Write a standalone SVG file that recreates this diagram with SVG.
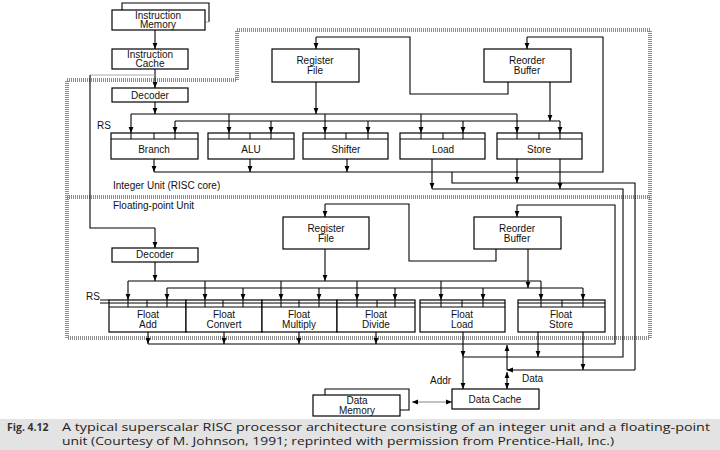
<svg xmlns="http://www.w3.org/2000/svg" width="720" height="450" viewBox="0 0 720 450">
<defs>
<marker id="a" viewBox="0 0 10 10" refX="10" refY="5" markerWidth="6" markerHeight="6" markerUnits="userSpaceOnUse" orient="auto-start-reverse"><path d="M0,1 L10,5 L0,9 z" fill="#000"/></marker>
<style>
.b{fill:#fff;stroke:#000;stroke-width:1.2}
.t{font-family:"Liberation Sans",Arial,sans-serif;font-size:10px;fill:#111;text-anchor:middle}
.l{font-family:"Liberation Sans",Arial,sans-serif;font-size:10px;fill:#111}
.c{fill:none;stroke:#000;stroke-width:1.1}
.g{fill:none;stroke:#aaa;stroke-width:1}
.ar{marker-end:url(#a)}
.dt{fill:none;stroke:#8c8c8c;stroke-width:4;stroke-dasharray:1 1}
.h{fill:none;stroke:#000;stroke-width:1}
</style>
</defs>
<rect width="720" height="450" fill="#fff"/>

<!-- unit borders -->
<g id="borders">
<path class="dt" d="M237,30 H650 V338 H67 V80 H237 Z"/>
<path class="dt" d="M67,197 H650"/>
<text class="l" x="113" y="189">Integer Unit (RISC core)</text>
<text class="l" x="113" y="209">Floating-point Unit</text>
<text class="l" x="97" y="129">RS</text>
<text class="l" x="86" y="300">RS</text>
</g>

<!-- connectors -->
<g id="connectors">
<path class="c" d="M122,11 V3 H209 V22"/>
<path class="g" d="M209,22 H205"/>
<path class="c ar" d="M155,30 V49"/>
<path class="c ar" d="M155,69 V88"/>
<path class="g" d="M90,75 H155"/>
<path class="c" d="M90,75 V228 H155"/>
<path class="c ar" d="M155,228 V248"/>
<path class="c ar" d="M155,102 V114"/>
<path class="c" d="M131,114 H517"/>
<path class="c" d="M175,121 H560"/>
<path class="c ar" d="M131,114 V133"/>
<path class="c ar" d="M229,114 V133"/>
<path class="c ar" d="M325,114 V133"/>
<path class="c ar" d="M421,114 V133"/>
<path class="c ar" d="M517,114 V133"/>
<path class="c ar" d="M175,121 V133"/>
<path class="c ar" d="M271,121 V133"/>
<path class="c ar" d="M368,121 V133"/>
<path class="c ar" d="M463,121 V133"/>
<path class="c ar" d="M560,121 V133"/>
<path class="c ar" d="M316,82 V114"/>
<path class="c ar" d="M550,82 V121"/>
<path class="c" d="M508,82 V94 H410 V37 H316"/>
<path class="c ar" d="M316,37 V49"/>
<path class="c" d="M154,172 H603 V37 H527"/>
<path class="c ar" d="M527,37 V49"/>
<path class="c ar" d="M154,159 V172"/>
<path class="c ar" d="M250,159 V172"/>
<path class="c ar" d="M347,159 V172"/>
<path class="c ar" d="M432,159 V189"/>
<path class="c ar" d="M517,159 V183"/>
<path class="c ar" d="M560,159 V189"/>
<path class="c" d="M452,172 V183 H635 V370"/>
<path class="c ar" d="M635,370 H507"/>
<path class="c" d="M432,189 H623 V357 H463"/>
<path class="c" d="M496,249 V261 H409 V204 H325"/>
<path class="c ar" d="M325,204 V217"/>
<path class="c ar" d="M155,261 V281"/>
<path class="c" d="M128,281 H541"/>
<path class="c" d="M167,288 H583"/>
<path class="c ar" d="M325,249 V281"/>
<path class="c ar" d="M528,249 V288"/>
<path class="c ar" d="M128,281 V300"/>
<path class="c ar" d="M205,281 V300"/>
<path class="c ar" d="M281,281 V300"/>
<path class="c ar" d="M357,281 V300"/>
<path class="c ar" d="M441,281 V300"/>
<path class="c ar" d="M541,281 V300"/>
<path class="c ar" d="M167,288 V300"/>
<path class="c ar" d="M243,288 V300"/>
<path class="c ar" d="M319,288 V300"/>
<path class="c ar" d="M395,288 V300"/>
<path class="c ar" d="M483,288 V300"/>
<path class="c ar" d="M583,288 V300"/>
<path class="c" d="M148,344 H615 V205 H517"/>
<path class="c ar" d="M517,205 V217"/>
<path class="c ar" d="M148,332 V344"/>
<path class="c ar" d="M224,332 V344"/>
<path class="c ar" d="M299,332 V344"/>
<path class="c ar" d="M376,332 V344"/>
<path class="c ar" d="M463,332 V357"/>
<path class="c ar" d="M463,357 V389"/>
<path class="c ar" d="M538,332 V357"/>
<path class="c ar" d="M583,332 V370"/>
<path class="c ar" d="M507,370 V345"/>
<path class="c ar" d="M507,372 V389" style="marker-start:url(#a)"/>
<path fill="none" stroke="#666" stroke-width="0.8" d="M412,402 H452" marker-start="url(#a)" marker-end="url(#a)"/>
<text class="l" x="430" y="384">Addr</text>
<text class="l" x="522" y="382">Data</text>
</g>

<!-- nodes -->
<g id="imem"><rect class="b" x="112" y="10" width="93" height="20"/><text class="t" x="158" y="18.5" font-size="8.5">Instruction</text><text class="t" x="158" y="28" font-size="8.5">Memory</text></g>
<g id="icache"><rect class="b" x="112" y="49" width="76" height="20"/><text class="t" x="150" y="57.5" font-size="8.5">Instruction</text><text class="t" x="150" y="67" font-size="8.5">Cache</text></g>
<g id="idec"><rect class="b" x="112" y="88" width="76" height="14"/><text class="t" x="150" y="99" font-size="9.5">Decoder</text></g>
<g id="irf"><rect class="b" x="272" y="49" width="87" height="33"/><text class="t" x="315" y="64">Register</text><text class="t" x="315" y="74">File</text></g>
<g id="irob"><rect class="b" x="484" y="49" width="87" height="33"/><text class="t" x="527" y="64">Reorder</text><text class="t" x="527" y="74">Buffer</text></g>

<g id="branch"><rect class="b" x="111" y="133" width="87" height="26"/><path class="h" d="M111,139 H198 M131,133 V139 M154,133 V139 M175,133 V139"/><text class="t" x="154" y="153">Branch</text></g>
<g id="alu"><rect class="b" x="208" y="133" width="86" height="26"/><path class="h" d="M208,139 H294 M229,133 V139 M250,133 V139 M271,133 V139"/><text class="t" x="251" y="153">ALU</text></g>
<g id="shifter"><rect class="b" x="303" y="133" width="85" height="26"/><path class="h" d="M303,139 H388 M325,133 V139 M346,133 V139 M368,133 V139"/><text class="t" x="346" y="153">Shifter</text></g>
<g id="load"><rect class="b" x="400" y="133" width="85" height="26"/><path class="h" d="M400,139 H485 M421,133 V139 M443,133 V139 M463,133 V139"/><text class="t" x="443" y="153">Load</text></g>
<g id="store"><rect class="b" x="497" y="133" width="85" height="26"/><path class="h" d="M497,139 H582 M517,133 V139 M539,133 V139 M560,133 V139"/><text class="t" x="539" y="153">Store</text></g>

<g id="fdec"><rect class="b" x="112" y="248" width="86" height="14"/><text class="t" x="155" y="258" font-size="9.5">Decoder</text></g>
<g id="frf"><rect class="b" x="283" y="217" width="86" height="32"/><text class="t" x="326" y="232">Register</text><text class="t" x="326" y="242">File</text></g>
<g id="frob"><rect class="b" x="474" y="217" width="87" height="32"/><text class="t" x="517" y="232">Reorder</text><text class="t" x="517" y="242">Buffer</text></g>

<g id="fadd"><rect class="b" x="109" y="300" width="77" height="32"/><path class="h" d="M100,300 H109 M100,303 H186 M109,307 H186 M128,300 V307 M147,300 V307 M167,300 V307"/><text class="t" x="148" y="318">Float</text><text class="t" x="148" y="328">Add</text></g>
<g id="fconv"><rect class="b" x="186" y="300" width="76" height="32"/><path class="h" d="M186,303 H262 M186,307 H262 M205,300 V307 M223,300 V307 M243,300 V307"/><text class="t" x="224" y="318">Float</text><text class="t" x="224" y="328">Convert</text></g>
<g id="fmul"><rect class="b" x="262" y="300" width="75" height="32"/><path class="h" d="M262,303 H337 M262,307 H337 M281,300 V307 M299,300 V307 M319,300 V307"/><text class="t" x="299" y="318">Float</text><text class="t" x="299" y="328">Multiply</text></g>
<g id="fdiv"><rect class="b" x="337" y="300" width="78" height="32"/><path class="h" d="M337,303 H415 M337,307 H415 M357,300 V307 M377,300 V307 M395,300 V307"/><text class="t" x="376" y="318">Float</text><text class="t" x="376" y="328">Divide</text></g>
<g id="fload"><rect class="b" x="420" y="300" width="85" height="32"/><path class="h" d="M420,303 H505 M420,307 H505 M441,300 V307 M462,300 V307 M483,300 V307"/><text class="t" x="462" y="318">Float</text><text class="t" x="462" y="328">Load</text></g>
<g id="fstore"><rect class="b" x="518" y="300" width="87" height="32"/><path class="h" d="M518,303 H605 M518,307 H605 M541,300 V307 M562,300 V307 M583,300 V307"/><text class="t" x="561" y="318">Float</text><text class="t" x="561" y="328">Store</text></g>

<g id="dcache"><rect class="b" x="452" y="389" width="87" height="20" stroke-width="1.5"/><text class="t" x="495" y="403">Data Cache</text></g>
<g id="dmem"><path class="c" d="M325,396 V389 H409 V410 H400"/><rect class="b" x="313" y="395" width="87" height="21" stroke="#666"/><text class="t" x="357" y="404" font-size="8.5" fill="#555">Data</text><text class="t" x="357" y="414">Memory</text></g>

<!-- caption -->
<g id="caption">
<rect x="0" y="419" width="720" height="31" fill="#e3e3e3"/>
<text x="7" y="431" font-family="'Open Sans','Liberation Sans',sans-serif" font-size="10.5" font-weight="bold" fill="#333">Fig. 4.12</text>
<text x="62" y="431" font-family="'Open Sans','Liberation Sans',sans-serif" font-size="10.5" fill="#222" textLength="648" lengthAdjust="spacingAndGlyphs">A typical superscalar RISC  processor architecture consisting of an integer unit and a floating-point</text>
<text x="62" y="445" font-family="'Open Sans','Liberation Sans',sans-serif" font-size="10.5" fill="#222" textLength="552" lengthAdjust="spacingAndGlyphs">unit (Courtesy of M. Johnson, 1991; reprinted with permission from Prentice-Hall, Inc.)</text>
</g>
</svg>
